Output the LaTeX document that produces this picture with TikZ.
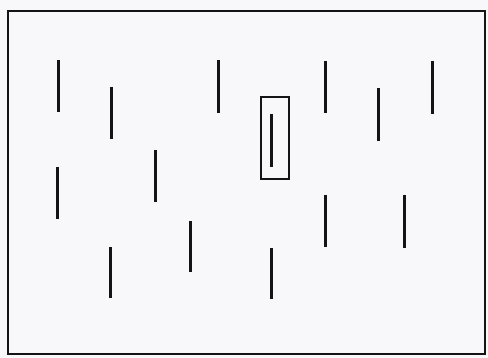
\documentclass[tikz,border=0pt]{standalone}
\definecolor{paper}{RGB}{248,247,250}
\definecolor{ink}{RGB}{20,20,20}
\tikzset{
  bar/.style={draw=ink, line width=3pt},
  frame/.style={draw=ink, line width=1.6pt},
  boxframe/.style={draw=ink, line width=1.3pt}
}
\begin{document}
\begin{tikzpicture}[x=1pt,y=-1pt]
\fill[paper] (0,0) rectangle (488,358);
\useasboundingbox (0,0) rectangle (488,358);
\draw[frame] (8,11) rectangle (485,354);
% bars
\foreach \x/\a/\b in {58/60/112, 111/87/139, 218/60/113, 325/61/113, 378/88/141, 432/61/114,
                      271/114/167, 57/167/219, 155/150/202, 325/195/247, 404/195/248,
                      190/221/272, 110/247/298, 271/248/299}
  \draw[bar] (\x,\a) -- (\x,\b);
\draw[boxframe] (261,97) rectangle (289,179);
\end{tikzpicture}
\end{document}
